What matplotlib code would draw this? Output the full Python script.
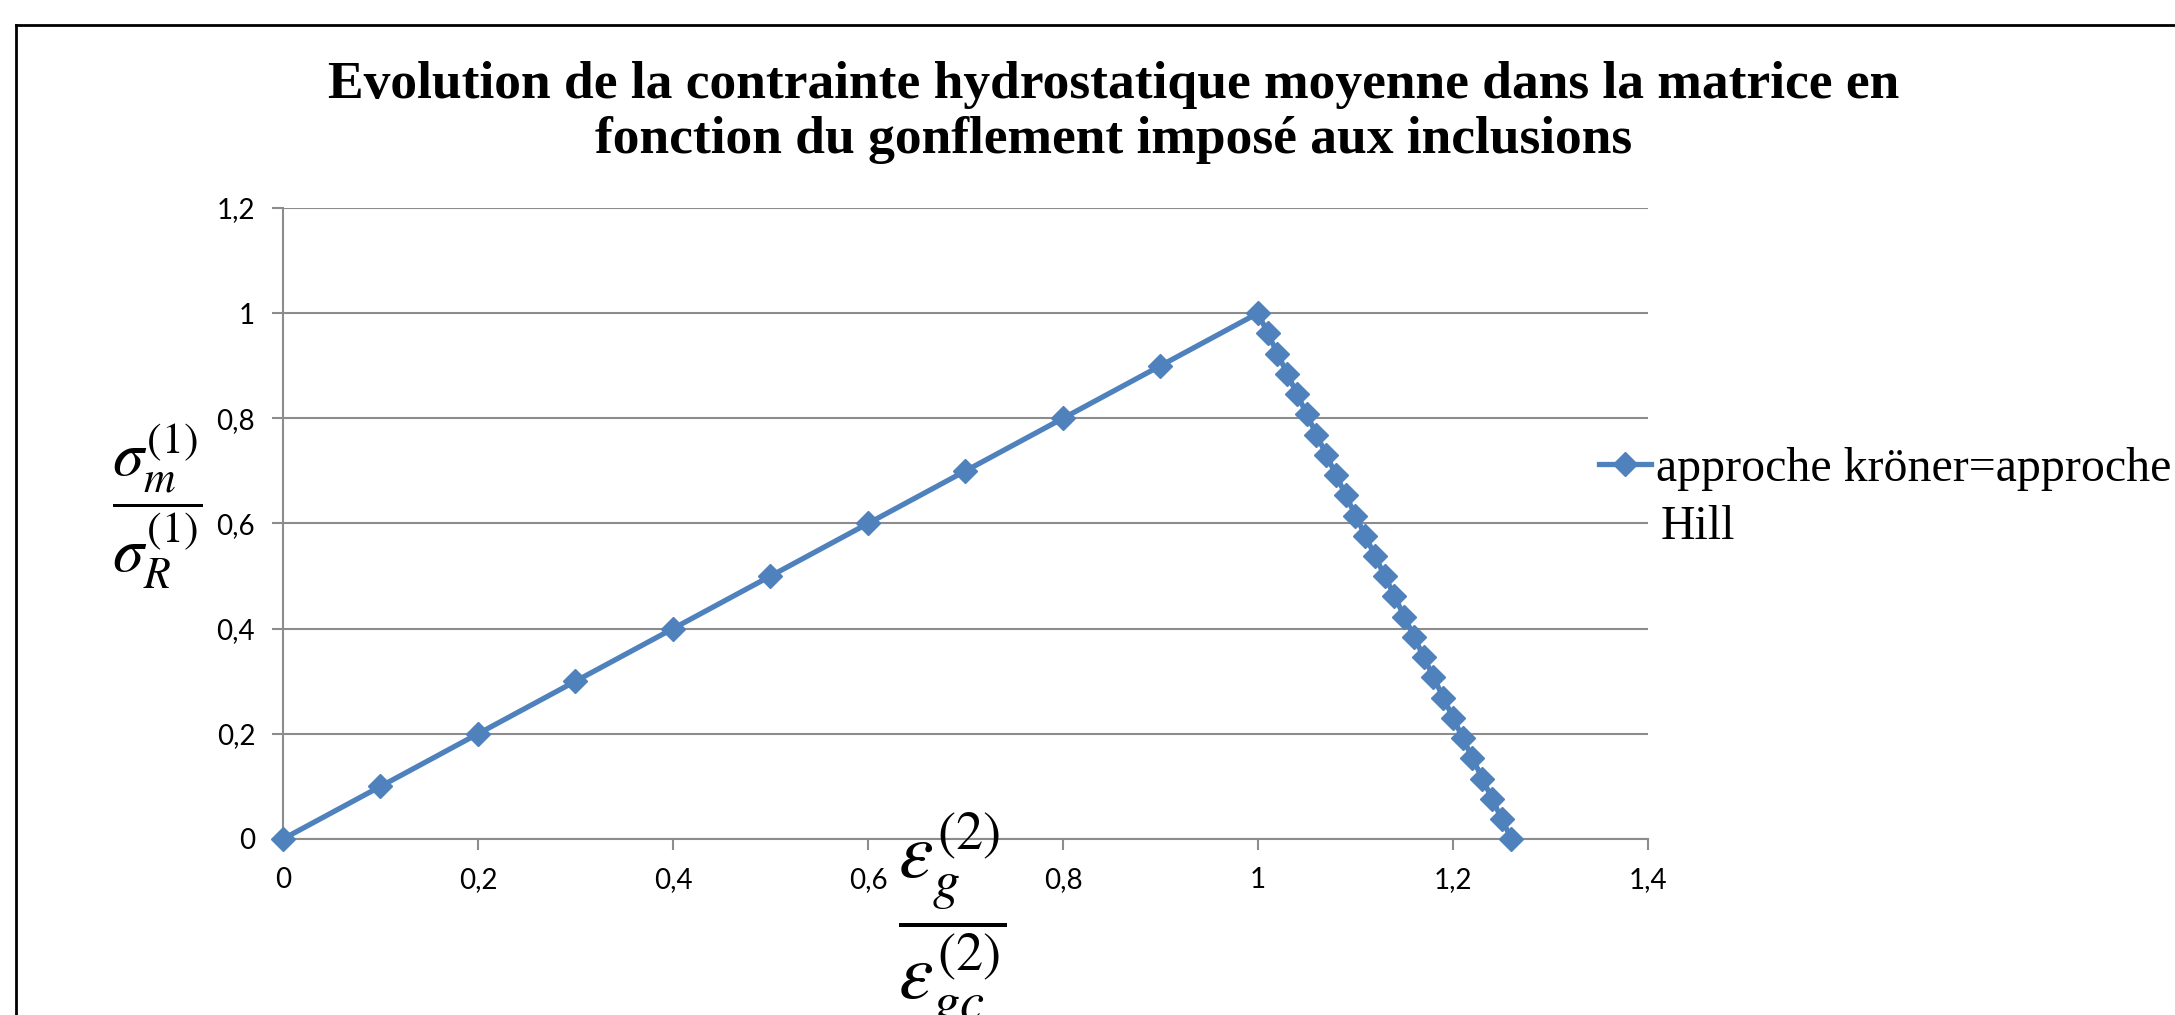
import matplotlib
matplotlib.use("Agg")
import matplotlib.pyplot as plt
from matplotlib.lines import Line2D
from matplotlib.ticker import FuncFormatter

plt.rcParams['mathtext.fontset'] = 'stix'

# donnees
gonflement = [0, 0.1, 0.2, 0.3, 0.4, 0.5, 0.6, 0.7, 0.8, 0.9, 1.0,
              1.01, 1.02, 1.03, 1.04, 1.05, 1.06, 1.07, 1.08, 1.09, 1.10,
              1.11, 1.12, 1.13, 1.14, 1.15, 1.16, 1.17, 1.18, 1.19, 1.20,
              1.21, 1.22, 1.23, 1.24, 1.25, 1.26]
contrainte = [0, 0.1, 0.2, 0.3, 0.4, 0.5, 0.6, 0.7, 0.8, 0.9, 1.0,
              0.962, 0.923, 0.885, 0.846, 0.808, 0.769, 0.731, 0.692, 0.654, 0.615,
              0.577, 0.538, 0.500, 0.462, 0.423, 0.385, 0.346, 0.308, 0.269, 0.231,
              0.192, 0.154, 0.115, 0.077, 0.038, 0.0]
xticks = [0, 0.2, 0.4, 0.6, 0.8, 1.0, 1.2, 1.4]
yticks = [0, 0.2, 0.4, 0.6, 0.8, 1.0, 1.2]
label_serie = "approche kröner=approche"
label_suite = "Hill"
titre = "Evolution de la contrainte hydrostatique moyenne dans la matrice en\nfonction du gonflement imposé aux inclusions"

bleu = '#4F81BD'
gris = '#8C8C8C'

fig = plt.figure(figsize=(21.75, 10.15), dpi=100)
ax = fig.add_axes([0.1301, 0.1734, 0.6276, 0.6217])

ax.plot(gonflement, contrainte, color=bleu, lw=3.8, marker='D', markersize=12,
        label=label_serie, clip_on=False, zorder=3)

ax.set_xlim(0, 1.4)
ax.set_ylim(0, 1.2)
ax.set_xticks(xticks)
ax.set_yticks(yticks)
fmt = FuncFormatter(lambda v, p: ('%g' % v).replace('.', ','))
ax.xaxis.set_major_formatter(fmt)
ax.yaxis.set_major_formatter(fmt)

ax.grid(axis='y', color=gris, lw=1.5)
ax.set_axisbelow(True)
for s in ['top', 'right']:
    ax.spines[s].set_visible(False)
for s in ['left', 'bottom']:
    ax.spines[s].set_color(gris)
    ax.spines[s].set_linewidth(1.5)
ax.tick_params(axis='both', colors=gris, length=8, width=1.5, labelcolor='black',
               labelsize=20, pad=12)
for lab in ax.get_xticklabels() + ax.get_yticklabels():
    lab.set_family('Lato')

fig.text(0.512, 0.889, titre, ha='center', va='center', family='Liberation Serif',
         fontweight='bold', fontsize=38.5, linespacing=1.2)

fig.text(0.0722, 0.5015, r'$\dfrac{\sigma_m^{(1)}}{\sigma_R^{(1)}}$', ha='center', va='center',
         fontsize=45)
fig.text(0.438, 0.0916, r'$\dfrac{\varepsilon_g^{(2)}}{\varepsilon_{gc}^{(2)}}$', ha='center', va='center',
         fontsize=56)

leg = ax.legend(loc='center left', bbox_to_anchor=(0.735, 0.538), bbox_transform=fig.transFigure,
                frameon=False, prop={'family': 'Liberation Serif', 'size': 34.5},
                handlelength=1.1, handletextpad=0.1, borderpad=0, borderaxespad=0)
fig.text(0.7635, 0.4808, label_suite, ha='left', va='center', family='Liberation Serif', fontsize=34.5)

# cadre exterieur
fig.add_artist(Line2D([16 / 2175, 1], [1 - 25 / 1015] * 2, color='black', lw=2))
fig.add_artist(Line2D([16 / 2175] * 2, [0, 1 - 25 / 1015], color='black', lw=2))

fig.savefig('out.png', dpi=100)
